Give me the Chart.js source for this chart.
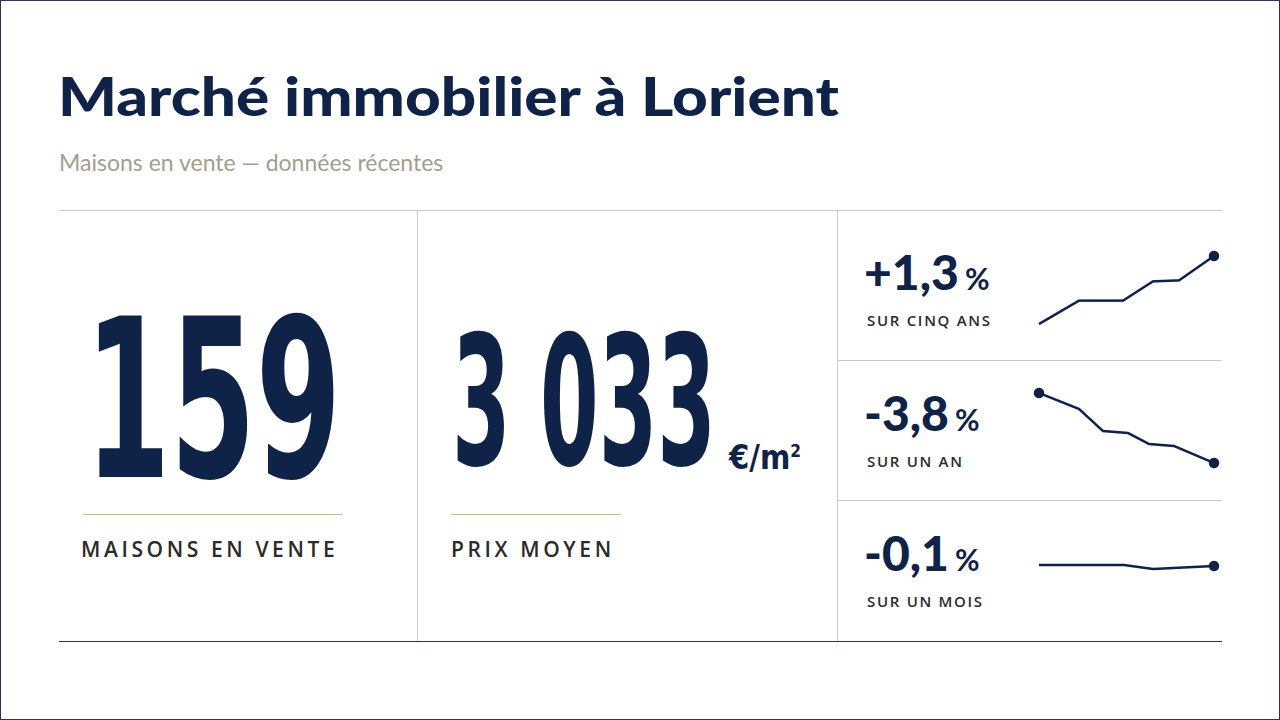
<!DOCTYPE html>
<html><head><meta charset="utf-8">
<script src="https://cdn.jsdelivr.net/npm/chart.js@4"></script>
<style>
html,body{margin:0;padding:0;background:#fff;}
#page{position:relative;width:1278px;height:718px;border:1px solid #2a3556;overflow:hidden;font-family:"Open Sans",Lato,sans-serif;color:#0f2247;}
.abs{position:absolute;white-space:nowrap;}
.title{left:57px;top:62px;font-family:Lato,"Open Sans",sans-serif;font-weight:900;font-size:54px;color:#0f2247;transform-origin:0 0;}
.sub{left:58px;top:147px;font-size:23px;color:#a39e8e;font-family:Lato,sans-serif;}
.hr{position:absolute;height:0;}
.vr{position:absolute;width:0;}
.big{font-family:"DejaVu Sans Condensed","Liberation Sans Narrow","DejaVu Sans",sans-serif;font-weight:bold;color:#0f2247;transform-origin:0 0;}
.lab{font-family:"Open Sans",sans-serif;font-weight:600;font-size:21px;letter-spacing:3.6px;color:#2b2b2b;}
.pct{font-family:Lato,"Open Sans",sans-serif;font-weight:900;font-size:48px;color:#0f2247;}
.pct span{font-size:30px;font-weight:700;margin-left:6px;}
.sm{font-family:"Open Sans",sans-serif;font-weight:600;font-size:15px;letter-spacing:1.7px;color:#2b2b2b;}
canvas{position:absolute;}
</style></head><body>
<div id="page">
<div class="abs title" id="title">Marché immobilier à Lorient</div>
<div class="abs sub">Maisons en vente — données récentes</div>
<div class="hr" style="left:58px;top:209px;width:1163px;border-top:1px solid #c9c9c9"></div>
<div class="hr" style="left:58px;top:640px;width:1163px;border-top:1.5px solid #2a3556"></div>
<div class="vr" style="left:416px;top:209px;height:431px;border-left:1px solid #c9c9c9"></div>
<div class="vr" style="left:836px;top:209px;height:431px;border-left:1px solid #c9c9c9"></div>
<div class="hr" style="left:836px;top:359px;width:385px;border-top:1px solid #c9c9c9"></div>
<div class="hr" style="left:836px;top:499px;width:385px;border-top:1px solid #c9c9c9"></div>

<div class="abs big" id="b1" style="left:84px;top:288px;font-size:222px;line-height:222px">159</div>
<div class="hr" style="left:82px;top:513px;width:260px;border-top:1.5px solid #c8b99a"></div>
<div class="abs lab" style="left:80px;top:534px">MAISONS EN VENTE</div>

<div class="abs big" id="b2" style="left:451px;top:311px;font-size:180px;line-height:180px">3 033</div>
<div class="abs big" id="b3" style="left:728px;top:430px;font-size:34px;line-height:40px">€/m<sup style="font-size:18px">2</sup></div>
<div class="hr" style="left:450px;top:513px;width:170px;border-top:1.5px solid #c8b99a"></div>
<div class="abs lab" style="left:450px;top:534px">PRIX MOYEN</div>

<div class="abs pct" style="left:863px;top:242px">+1,3<span>%</span></div>
<div class="abs sm" style="left:866px;top:309px">SUR CINQ ANS</div>
<div class="abs pct" style="left:863px;top:383px">-3,8<span>%</span></div>
<div class="abs sm" style="left:866px;top:450px">SUR UN AN</div>
<div class="abs pct" style="left:863px;top:523px">-0,1<span>%</span></div>
<div class="abs sm" style="left:866px;top:590px">SUR UN MOIS</div>

<canvas id="s1" style="left:1030px;top:247px;width:191px;height:84px"></canvas>
<canvas id="s2" style="left:1030px;top:384px;width:191px;height:86px"></canvas>
<canvas id="s3" style="left:1030px;top:528px;width:191px;height:76px"></canvas>
</div>
<script>
// Sparkline data (x = relative time position, y = relative index value)
const fiveYearX = [0, 40, 84, 114, 140, 175];
const fiveYearY = [0, 23, 23, 42, 43, 67];
const oneYearX = [0, 40, 64, 89, 110, 135, 175];
const oneYearY = [70, 54, 32, 30, 19, 17, 0];
const oneMonthX = [0, 85, 114, 175];
const oneMonthY = [2, 2, -2, 1];

function fit(id, w) {
  const el = document.getElementById(id);
  const cw = el.getBoundingClientRect().width;
  el.style.transform = 'scaleX(' + (w / cw) + ')';
}
fit('title', 781);
fit('b1', 256);
fit('b2', 264);
fit('b3', 72);

const NAVY = '#0f2247';
function spark(id, xs, ys, ymin, ymax, firstDot) {
  const pts = xs.map((x, i) => ({x, y: ys[i]}));
  const radii = pts.map((p, i) => (i === pts.length - 1 || (firstDot && i === 0)) ? 4 : 0);
  new Chart(document.getElementById(id), {
    type: 'line',
    data: {datasets: [{data: pts, borderColor: NAVY, backgroundColor: NAVY, borderWidth: 2.5,
      pointRadius: radii, pointHoverRadius: radii, tension: 0, fill: false, clip: false}]},
    options: {
      responsive: false, animation: false, devicePixelRatio: 2,
      layout: {padding: 8},
      plugins: {legend: {display: false}, tooltip: {enabled: false}},
      scales: {
        x: {type: 'linear', display: false, min: 0, max: 175},
        y: {display: false, min: ymin, max: ymax}
      }
    }
  });
}
['s1','s2','s3'].forEach(id => {
  const c = document.getElementById(id);
  c.width = parseInt(c.style.width); c.height = parseInt(c.style.height);
});
spark('s1', fiveYearX, fiveYearY, 0, 67, false);
spark('s2', oneYearX, oneYearY, 0, 70, true);
spark('s3', oneMonthX, oneMonthY, -30, 30, false);
</script>
</body></html>
